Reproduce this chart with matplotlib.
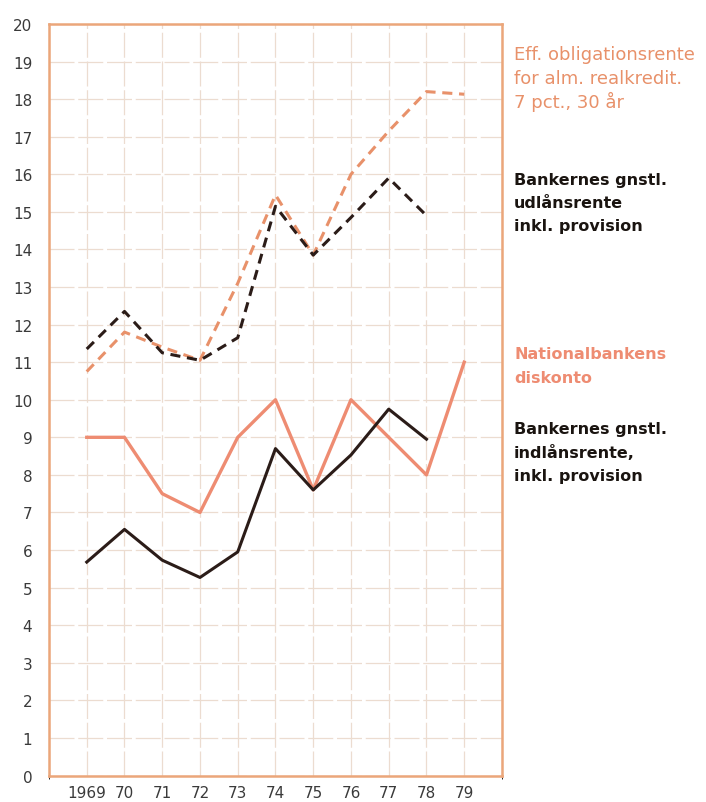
import matplotlib.pyplot as plt
import numpy as np

# data (percent)
years = [1969, 1970, 1971, 1972, 1973, 1974, 1975, 1976, 1977, 1978, 1979]
obligationsrente = [10.75, 11.8, 11.4, 11.05, 13.1, 15.45, 13.85, 16.0, 17.15, 18.2, 18.13]
udlaansrente = [11.35, 12.35, 11.25, 11.05, 11.65, 15.15, 13.85, 14.85, 15.9, 14.9]
diskonto = [9.0, 9.0, 7.5, 7.0, 9.0, 10.0, 7.6, 10.0, 9.0, 8.0, 11.0]
indlaansrente = [5.68, 6.55, 5.73, 5.27, 5.95, 8.7, 7.6, 8.53, 9.75, 8.95]

xlabels = ['1969', '70', '71', '72', '73', '74', '75', '76', '77', '78', '79']

orange = '#e8916a'
salmon = '#ee8c72'
dark = '#2b1c18'
grid_c = '#ecdcd0'
frame_c = '#eba67a'

fig = plt.figure(figsize=(7.06, 8.03), dpi=100)
ax = fig.add_axes([0.0694, 0.033, 0.6416, 0.9359])

ax.plot(years, obligationsrente, color=orange, lw=2.2, ls=(0, (3.3, 2.2)))
ax.plot(years[:len(udlaansrente)], udlaansrente, color=dark, lw=2.2, ls=(0, (3.3, 2.2)))
ax.plot(years, diskonto, color=salmon, lw=2.4)
ax.plot(years[:len(indlaansrente)], indlaansrente, color=dark, lw=2.2)

ax.set_xlim(1968, 1980)
ax.set_ylim(0, 20)
ax.set_xticks(years)
ax.set_xticklabels(xlabels)
ax.set_yticks(range(0, 21))
ax.set_xticks(range(1968, 1981), minor=True)
ax.grid(True, which='both', color=grid_c, lw=0.9, ls=(0, (20, 3)))
ax.tick_params(length=0, labelsize=11, colors='#3a3a3a')
ax.tick_params(axis='x', pad=7)
ax.tick_params(axis='y', pad=12)
for s in ax.spines.values():
    s.set_color(frame_c)
    s.set_linewidth(1.8)

tx = 514 / 706
def lab(y_px, lines, color, weight, size):
    for i, t in enumerate(lines):
        fig.text(tx, 1 - (y_px + i * 23.5) / 803, t, color=color, fontsize=size,
                 fontweight=weight, va='center', ha='left')

lab(55, ['Eff. obligationsrente', 'for alm. realkredit.', '7 pct., 30 år'], orange, 'normal', 13)
lab(180, ['Bankernes gnstl.', 'udlånsrente', 'inkl. provision'], '#1a1410', 'bold', 11.5)
lab(355, ['Nationalbankens', 'diskonto'], salmon, 'bold', 11.5)
lab(430, ['Bankernes gnstl.', 'indlånsrente,', 'inkl. provision'], '#1a1410', 'bold', 11.5)

fig.savefig('out.png', dpi=100)
